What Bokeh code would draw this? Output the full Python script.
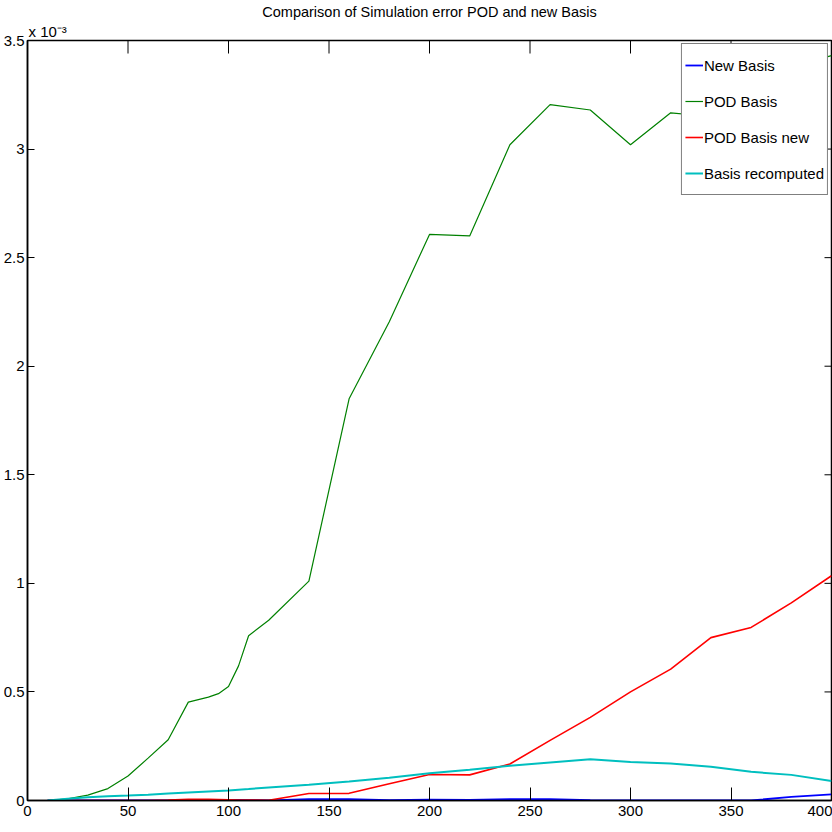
import math
from bokeh.plotting import figure
from bokeh.models import Range1d, Legend, LegendItem, Title, FixedTicker
from bokeh.embed import file_html
from bokeh.resources import INLINE

# Sample positions (snapshot index) shared by all four error curves
steps = [10, 20, 30, 40, 50, 60, 70, 80, 90, 95, 100, 105, 110, 120, 140, 160,
         180, 200, 220, 240, 260, 280, 300, 320, 340, 360, 380, 400]

# Simulation error, in units of 1e-3
new_basis = [0.0, 0.0, 0.0, 0.0, 0.0, 0.0, 0.0, 0.0, 0.0, 0.0, 0.003, 0.003, 0.002,
             0.0, 0.006, 0.006, 0.002, 0.004, 0.003, 0.006, 0.006, 0.002, 0.0, 0.0,
             0.0, 0.0, 0.017, 0.028]
pod_basis = [0.0, 0.008, 0.025, 0.055, 0.113, 0.195, 0.28, 0.453, 0.476, 0.492,
             0.525, 0.62, 0.759, 0.83, 1.01, 1.85, 2.205, 2.607, 2.60, 3.02, 3.205,
             3.18, 3.02, 3.167, 3.15, 3.3, 3.38, 3.43]
pod_basis_new = [0.0, 0.0, 0.0, 0.0, 0.0, 0.0, 0.002, 0.005, 0.005, 0.004, 0.003,
                 0.002, 0.002, 0.001, 0.032, 0.033, 0.077, 0.12, 0.118, 0.168, 0.277,
                 0.383, 0.5, 0.605, 0.75, 0.797, 0.91, 1.035]
basis_recomputed = [0.0, 0.008, 0.015, 0.02, 0.023, 0.027, 0.032, 0.037, 0.042,
                    0.044, 0.046, 0.05, 0.053, 0.06, 0.073, 0.087, 0.105, 0.125,
                    0.142, 0.16, 0.175, 0.19, 0.177, 0.17, 0.155, 0.132, 0.118, 0.09]

series_names = ["New Basis", "POD Basis", "POD Basis new", "Basis recomputed"]
series_colors = ["#0000ff", "#008000", "#ff0000", "#00bfbf"]

x_min, x_max = 0, 400
y_min, y_max = 0, 3.5
x_ticks = [0, 50, 100, 150, 200, 250, 300, 350, 400]
y_ticks = [0, 0.5, 1, 1.5, 2, 2.5, 3, 3.5]
y_tick_labels = ["0", "0.5", "1", "1.5", "2", "2.5", "3", "3.5"]

FONT = "Liberation Sans"
FS = "15px"

p = figure(width=832, height=832, output_backend="svg", toolbar_location=None,
           x_range=Range1d(x_min, x_max), y_range=Range1d(y_min, y_max))
p.min_border_left = 25
p.min_border_right = 1
p.min_border_top = 40
p.min_border_bottom = 32
p.background_fill_color = "white"
p.border_fill_color = "white"
p.outline_line_color = "black"
p.outline_line_width = 1.5
p.xgrid.visible = False
p.ygrid.visible = False

# scale exponent sits just above the axes, the title above it
p.add_layout(Title(text="x 10\u207b\u00b3", align="left", text_font=FONT,
                   text_font_size=FS, text_font_style="normal", text_color="black",
                   standoff=2, offset=1), "above")
p.add_layout(Title(text="Comparison of Simulation error POD and new Basis",
                   align="center", text_font=FONT, text_font_size="14.5px",
                   text_font_style="normal", text_color="black", standoff=0), "above")

xa = p.xaxis[0]
ya = p.yaxis[0]
xa.ticker = FixedTicker(ticks=x_ticks)
xa.major_tick_in = 13
xa.major_label_standoff = 5
ya.ticker = FixedTicker(ticks=y_ticks)
ya.major_label_overrides = {t: s for t, s in zip(y_ticks, y_tick_labels)}
ya.major_tick_in = 7
ya.major_label_standoff = 3
for ax in (xa, ya):
    ax.major_tick_out = 0
    ax.minor_tick_in = 0
    ax.minor_tick_out = 0
    ax.axis_line_width = 1.5
    ax.major_tick_line_color = "black"
    ax.major_label_text_font = FONT
    ax.major_label_text_font_size = FS
    ax.major_label_text_color = "black"

# inward ticks on the top and right edges of the box
p.ray(x=x_ticks, y=[y_max] * len(x_ticks), length=13, length_units="screen",
      angle=-math.pi / 2, line_color="black", line_width=1)
p.ray(x=[x_max] * len(y_ticks), y=y_ticks, length=7, length_units="screen",
      angle=math.pi, line_color="black", line_width=1)

renderers = []
for vals, col, w in zip([new_basis, pod_basis, pod_basis_new, basis_recomputed],
                        series_colors, [1.8, 1.2, 1.6, 2.0]):
    renderers.append(p.line(steps, vals, line_color=col, line_width=w))

legend = Legend(items=[LegendItem(label=n, renderers=[r]) for n, r in zip(series_names, renderers)],
                location="top_right")
legend.border_line_color = "black"
legend.border_line_width = 1
legend.background_fill_color = "white"
legend.background_fill_alpha = 1
legend.label_text_font = FONT
legend.label_text_font_size = FS
legend.label_text_color = "black"
legend.glyph_width = 18
legend.glyph_height = 36
legend.label_height = 36
legend.label_standoff = 1
legend.spacing = 0
legend.padding = 3
legend.margin = 3
p.add_layout(legend)

open("out.html", "w").write(file_html(p, INLINE))
